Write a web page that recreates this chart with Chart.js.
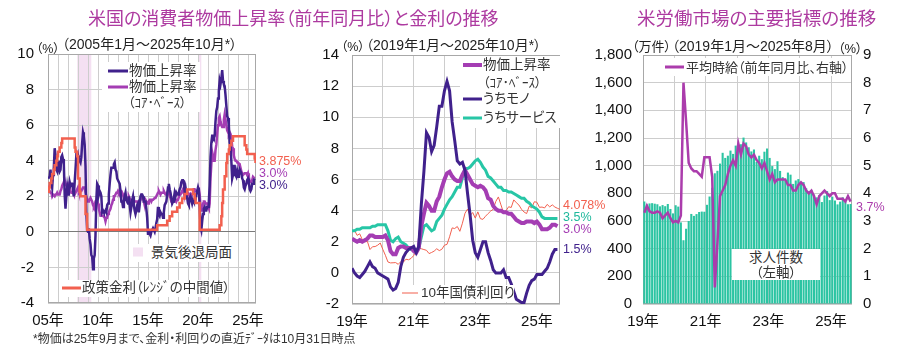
<!DOCTYPE html>
<html lang="ja">
<head>
<meta charset="utf-8">
<script src="https://cdn.jsdelivr.net/npm/chart.js@4.4.1/dist/chart.umd.min.js"></script>
<style>
  body { margin:0; width:900px; height:360px; position:relative; overflow:hidden; background:#fff;
         font-family:"Liberation Sans","Noto Sans CJK JP",sans-serif; color:#333; }
  canvas { position:absolute; top:0; }
  .t { position:absolute; line-height:1; transform:translateY(-50%); white-space:nowrap; font-feature-settings:"palt"; }
  .box { position:absolute; background:#fff; }
  .key { position:absolute; transform:translateY(-50%); }
</style>
</head>
<body>
<canvas id="cpiChart" width="300" height="360" style="left:0"></canvas>
<canvas id="mixChart" width="300" height="360" style="left:300px"></canvas>
<canvas id="jobChart" width="310" height="360" style="left:590px"></canvas>

<!-- titles -->
<div class="t" style="left:88px;top:19px;font-size:18px;color:#ad3aa0">米国の消費者物価上昇率（前年同月比）と金利の推移</div>
<div class="t" style="left:637px;top:19px;font-size:18.5px;color:#ad3aa0">米労働市場の主要指標の推移</div>

<!-- left panel -->
<div class="t" style="left:36px;top:49px;font-size:12.5px;color:#222">（%）</div>
<div class="t" style="left:62px;top:44px;font-size:14px;color:#222">（2005年1月～2025年10月*）</div>
<div class="box" style="left:102px;top:62px;width:98px;height:50px"></div>
<div class="key" style="left:108px;top:71px;width:20px;height:3px;background:#40218c"></div>
<div class="t" style="left:129px;top:71px;font-size:13.5px">物価上昇率</div>
<div class="key" style="left:108px;top:87px;width:20px;height:3px;background:#a43db3"></div>
<div class="t" style="left:129px;top:87px;font-size:13.5px">物価上昇率</div>
<div class="t" style="left:128px;top:102px;font-size:13px">（ｺｱ･ﾍﾞｰｽ）</div>
<div class="box" style="left:130px;top:244px;width:102px;height:18px"></div>
<div class="key" style="left:133px;top:252px;width:10px;height:9px;background:#f4e0f2"></div>
<div class="t" style="left:151px;top:253px;font-size:13.5px">景気後退局面</div>
<div class="box" style="left:60px;top:280px;width:166px;height:17px"></div>
<div class="key" style="left:62px;top:288px;width:19px;height:3px;background:#f2604f"></div>
<div class="t" style="left:82px;top:288px;font-size:13.5px">政策金利（ﾚﾝｼﾞの中間値）</div>
<div class="t" style="left:259px;top:161px;font-size:12.5px;color:#f2604f">3.875%</div>
<div class="t" style="left:259px;top:173px;font-size:12.5px;color:#a43db3">3.0%</div>
<div class="t" style="left:259px;top:185px;font-size:12.5px;color:#40218c">3.0%</div>
<div class="t" style="left:33px;top:339px;font-size:12px;color:#333">*物価は25年9月まで、金利・利回りの直近ﾃﾞｰﾀは10月31日時点</div>

<!-- middle panel -->
<div class="t" style="left:341px;top:47px;font-size:12.5px;color:#222">（%）</div>
<div class="t" style="left:366px;top:45px;font-size:14px;color:#222">（2019年1月～2025年10月*）</div>
<div class="box" style="left:460px;top:56px;width:100px;height:72px"></div>
<div class="key" style="left:463px;top:65px;width:19px;height:4px;background:#a43db3"></div>
<div class="t" style="left:483px;top:65px;font-size:13.5px">物価上昇率</div>
<div class="t" style="left:483px;top:82px;font-size:13px">（ｺｱ･ﾍﾞｰｽ）</div>
<div class="key" style="left:463px;top:99px;width:19px;height:3px;background:#40218c"></div>
<div class="t" style="left:483px;top:99px;font-size:13.5px">うちモノ</div>
<div class="key" style="left:463px;top:118px;width:19px;height:3px;background:#27c6a6"></div>
<div class="t" style="left:483px;top:118px;font-size:13.5px">うちサービス</div>
<div class="box" style="left:399px;top:285px;width:115px;height:17px"></div>
<div class="key" style="left:402px;top:293px;width:16px;height:1px;background:#f2604f"></div>
<div class="t" style="left:421px;top:293px;font-size:13.5px">10年国債利回り</div>
<div class="t" style="left:563px;top:205px;font-size:12.5px;color:#f2604f">4.078%</div>
<div class="t" style="left:563px;top:217px;font-size:12.5px;color:#1fb89c">3.5%</div>
<div class="t" style="left:563px;top:229px;font-size:12.5px;color:#a43db3">3.0%</div>
<div class="t" style="left:563px;top:249px;font-size:12.5px;color:#40218c">1.5%</div>

<!-- right panel -->
<div class="t" style="left:632px;top:46px;font-size:13px;color:#222">（万件）</div>
<div class="t" style="left:672px;top:46px;font-size:14px;color:#222">（2019年1月～2025年8月）</div>
<div class="t" style="left:838px;top:48px;font-size:13px;color:#222">（%）</div>
<div class="box" style="left:662px;top:58px;width:188px;height:18px"></div>
<div class="key" style="left:665px;top:67px;width:19px;height:3px;background:#ab3cac"></div>
<div class="t" style="left:686px;top:67px;font-size:13px">平均時給（前年同月比、右軸）</div>
<div class="box" style="left:732px;top:249px;width:88px;height:31px"></div>
<div class="t" style="left:732px;width:88px;text-align:center;top:258px;font-size:13.5px">求人件数</div>
<div class="t" style="left:732px;width:88px;text-align:center;top:273px;font-size:13.5px">（左軸）</div>
<div class="t" style="left:856px;top:207px;font-size:12.5px;color:#ab3cac">3.7%</div>

<script>
// ---- data: US CPI, y/y %, monthly from Jan 2005 ----
const cpiStart = 2005;
const cpiAll = [
  3.0,3.0,3.1,3.5,2.8,2.5,3.2,3.6,4.7,4.3,3.5,3.4,
  4.0,3.6,3.4,3.5,4.2,4.3,4.1,3.8,2.1,1.3,2.0,2.5,
  2.1,2.4,2.8,2.6,2.7,2.7,2.4,2.0,2.8,3.5,4.3,4.1,
  4.3,4.0,4.0,3.9,4.2,5.0,5.6,5.4,4.9,3.7,1.1,0.1,
  0.0,0.2,-0.4,-0.7,-1.3,-1.4,-2.1,-1.5,-1.3,-0.2,1.8,2.7,
  2.6,2.1,2.3,2.2,2.0,1.1,1.2,1.1,1.1,1.2,1.1,1.5,
  1.6,2.1,2.7,3.2,3.6,3.6,3.6,3.8,3.9,3.5,3.4,3.0,
  2.9,2.9,2.7,2.3,1.7,1.7,1.4,1.7,2.0,2.2,1.8,1.7,
  1.6,2.0,1.5,1.1,1.4,1.8,2.0,1.5,1.2,1.0,1.2,1.5,
  1.6,1.1,1.5,2.0,2.1,2.1,2.0,1.7,1.7,1.7,1.3,0.8,
  -0.1,0.0,-0.1,-0.2,0.0,0.1,0.2,0.2,0.0,0.2,0.5,0.7,
  1.4,1.0,0.9,1.1,1.0,1.0,0.8,1.1,1.5,1.6,1.7,2.1,
  2.5,2.7,2.4,2.2,1.9,1.6,1.7,1.9,2.2,2.0,2.2,2.1,
  2.1,2.2,2.4,2.5,2.8,2.9,2.9,2.7,2.3,2.5,2.2,1.9,
  1.6,1.5,1.9,2.0,1.8,1.6,1.8,1.7,1.7,1.8,2.1,2.3,
  2.5,2.3,1.5,0.3,0.1,0.6,1.0,1.3,1.4,1.2,1.2,1.4,
  1.4,1.7,2.6,4.2,5.0,5.4,5.4,5.3,5.4,6.2,6.8,7.0,
  7.5,7.9,8.5,8.3,8.6,9.1,8.5,8.3,8.2,7.7,7.1,6.5,
  6.4,6.0,5.0,4.9,4.0,3.0,3.2,3.7,3.7,3.2,3.1,3.4,
  3.1,3.2,3.5,3.4,3.3,3.0,2.9,2.5,2.4,2.6,2.7,2.9,
  3.0,2.8,2.4,2.3,2.4,2.7,2.7,2.9,3.0
];
const cpiCore = [
  2.3,2.4,2.3,2.2,2.2,2.0,2.1,2.1,2.0,2.1,2.1,2.2,
  2.1,2.1,2.1,2.3,2.4,2.6,2.7,2.8,2.9,2.7,2.6,2.6,
  2.7,2.7,2.5,2.3,2.2,2.2,2.2,2.1,2.1,2.2,2.3,2.4,
  2.5,2.3,2.4,2.3,2.3,2.4,2.5,2.5,2.5,2.2,2.0,1.8,
  1.7,1.8,1.8,1.9,1.8,1.7,1.5,1.4,1.5,1.7,1.7,1.8,
  1.6,1.3,1.1,0.9,0.9,0.9,0.9,0.9,0.8,0.6,0.8,0.8,
  1.0,1.1,1.2,1.3,1.5,1.6,1.8,2.0,2.0,2.1,2.2,2.2,
  2.3,2.2,2.3,2.3,2.3,2.2,2.1,1.9,2.0,2.0,1.9,1.9,
  1.9,2.0,1.9,1.7,1.7,1.6,1.7,1.8,1.7,1.7,1.7,1.7,
  1.6,1.6,1.7,1.8,2.0,1.9,1.9,1.7,1.7,1.8,1.7,1.6,
  1.6,1.7,1.8,1.8,1.7,1.8,1.8,1.8,1.9,1.9,2.0,2.1,
  2.2,2.3,2.2,2.1,2.2,2.2,2.2,2.3,2.2,2.1,2.1,2.2,
  2.3,2.2,2.0,1.9,1.7,1.7,1.7,1.7,1.7,1.8,1.7,1.8,
  1.8,1.8,2.1,2.1,2.2,2.3,2.4,2.2,2.2,2.1,2.2,2.2,
  2.2,2.1,2.0,2.1,2.0,2.1,2.2,2.4,2.4,2.3,2.3,2.3,
  2.3,2.4,2.1,1.4,1.2,1.2,1.6,1.7,1.7,1.6,1.6,1.6,
  1.4,1.3,1.6,3.0,3.8,4.5,4.3,4.0,4.0,4.6,4.9,5.5,
  6.0,6.4,6.5,6.2,6.0,5.9,5.9,6.3,6.6,6.3,6.0,5.7,
  5.6,5.5,5.6,5.5,5.3,4.8,4.7,4.3,4.1,4.0,4.0,3.9,
  3.9,3.8,3.8,3.6,3.4,3.3,3.2,3.2,3.3,3.3,3.3,3.2,
  3.3,3.1,2.8,2.8,2.8,2.9,3.1,3.1,3.0
];

// policy rate (midpoint of target range): month of each change and new level
const rateMonths = [
  '2005-01','2005-02','2005-03','2005-05','2005-06','2005-08','2005-09','2005-11','2005-12',
  '2006-01','2006-03','2006-05','2006-06','2007-09','2007-10','2007-12',
  '2008-01','2008-03','2008-04','2008-10','2008-12','2015-12','2016-12',
  '2017-03','2017-06','2017-12','2018-03','2018-06','2018-09','2018-12',
  '2019-07','2019-09','2019-10','2020-03',
  '2022-03','2022-05','2022-06','2022-07','2022-09','2022-11','2022-12',
  '2023-02','2023-03','2023-05','2023-07','2024-09','2024-11','2024-12','2025-09','2025-10'
];
const rateLevels = [
  2.25,2.5,2.75,3.0,3.25,3.5,3.75,4.0,4.25,
  4.5,4.75,5.0,5.25,4.75,4.5,4.25,
  3.0,2.25,2.0,1.0,0.125,0.375,0.625,
  0.875,1.125,1.375,1.625,1.875,2.125,2.375,
  2.125,1.875,1.625,0.125,
  0.375,0.875,1.625,2.375,3.125,3.875,4.375,
  4.625,4.875,5.125,5.375,4.875,4.625,4.375,4.125,3.875
];

// recession periods (decimal years)
const recessionStart = [2007.92, 2020.08];
const recessionEnd = [2009.33, 2020.33];

// ---- middle panel, monthly from Jan 2019 ----
const midStart = 2019;
const coreMid = cpiCore.slice((midStart - cpiStart) * 12);
const goods = [
  0.3,0.0,-0.2,-0.3,-0.1,0.1,0.4,0.7,0.4,0.3,0.0,-0.1,
  -0.2,-0.3,-0.4,-0.9,-1.1,-1.0,-0.6,0.4,1.0,1.3,1.5,1.6,
  1.7,1.3,1.7,4.4,6.5,9.0,8.7,7.8,8.2,9.4,10.7,10.7,
  11.7,12.3,11.7,9.7,8.5,7.2,7.0,7.1,6.6,5.1,3.7,2.1,
  1.3,1.0,1.5,2.0,2.0,1.3,0.8,0.2,0.0,0.0,0.0,0.2,
  -0.3,-0.3,-0.7,-1.2,-1.7,-1.8,-1.9,-1.9,-1.3,-0.8,-0.5,-0.4,
  -0.1,-0.1,-0.1,0.1,0.3,0.7,1.2,1.5,1.5
];
const services = [
  2.7,2.7,2.8,2.8,2.9,2.9,2.9,2.9,3.0,3.0,3.1,3.1,
  3.1,3.1,2.7,2.1,2.0,2.2,2.3,2.0,1.9,1.8,1.6,1.5,
  1.5,1.3,1.6,2.3,3.0,3.1,2.9,2.7,2.8,3.3,3.5,3.7,
  4.1,4.4,4.7,4.9,5.2,5.5,5.5,6.1,6.7,6.7,6.8,7.0,
  7.2,7.3,7.1,6.8,6.6,6.2,6.1,5.9,5.7,5.5,5.5,5.3,
  5.3,5.2,5.2,5.1,5.0,4.9,4.8,4.8,4.6,4.5,4.3,4.2,
  4.1,3.9,3.6,3.5,3.5,3.5,3.5,3.5,3.5
];
const yield10 = [
  2.63,2.73,2.41,2.51,2.14,2.00,2.02,1.50,1.68,1.69,1.78,1.92,
  1.51,1.13,0.70,0.64,0.65,0.66,0.55,0.72,0.69,0.88,0.84,0.93,
  1.11,1.44,1.61,1.55,1.50,1.45,1.24,1.31,1.40,1.55,1.43,1.52,
  1.78,1.83,2.32,2.89,2.85,2.98,2.67,3.19,3.83,4.10,3.68,3.88,
  3.52,3.92,3.48,3.44,3.64,3.81,3.97,4.09,4.59,4.88,4.37,3.88,
  3.99,4.25,4.20,4.69,4.51,4.36,4.09,3.91,3.81,4.28,4.17,4.57,
  4.54,4.21,4.23,4.17,4.40,4.24,4.37,4.23,4.15,4.078
];

// ---- right panel, monthly from Jan 2019 ----
const jobStart = 2019;
const openings = [ // 万件
  741,719,727,729,725,721,706,715,707,723,687,655,
  714,704,590,461,544,600,651,637,650,665,668,667,
  717,777,840,945,963,1015,1093,1056,1072,1109,1085,1145,
  1135,1155,1203,1168,1133,1103,1117,1028,1072,1047,1101,1124,
  1056,997,975,1032,962,917,892,950,935,868,893,903,
  875,881,836,814,823,791,771,786,737,784,816,751,
  776,748,720,740,771,736,721,723
];
const wages = [ // %
  3.3,3.55,3.35,3.3,3.3,3.35,3.3,3.1,3.2,3.3,3.1,2.95,
  3.0,2.95,3.2,8.0,6.6,5.1,4.9,4.8,4.8,4.7,4.6,5.3,
  5.3,5.3,4.6,0.6,2.2,3.9,4.1,4.3,4.7,5.0,5.2,5.0,
  5.8,5.4,5.8,5.7,5.4,5.3,5.4,5.2,5.1,4.9,5.1,4.8,
  4.5,4.7,4.4,4.5,4.5,4.5,4.5,4.3,4.3,4.1,4.1,4.3,
  4.4,4.3,4.1,4.0,4.1,3.9,3.6,3.9,4.0,4.1,4.0,3.9,
  4.0,4.0,3.8,3.8,3.8,3.7,3.9,3.7
];

// ---- helpers ----
const PURPLE = '#40218c', MAGENTA = '#a43db3', RED = '#f2604f', TEAL = '#27c6a6';
const GRID = '#cdcdcd';
const TICK_FONT = { family: '"Liberation Sans", "Noto Sans CJK JP", sans-serif', size: 15 };

const monthly = (start, arr, shift = 0) => arr.map((v, i) => ({ x: start + (i + shift) / 12, y: v }));
const ym = s => +s.slice(0, 4) + (+s.slice(5, 7) - 1) / 12;

function xAxis(min, max, label) {
  return {
    type: 'linear', min, max, offset: false,
    border: { display: false },
    grid: { color: GRID, drawTicks: false, offset: false },
    ticks: { stepSize: 1, autoSkip: false, maxRotation: 0, minRotation: 0, includeBounds: false,
             padding: 9, color: '#111', font: TICK_FONT,
             callback: v => Number.isInteger(v) ? label(v) : '' },
    afterFit: s => { s.height = 30; }
  };
}
function yAxis(min, max, step, width, opts = {}) {
  return {
    min, max, position: opts.position || 'left',
    border: { display: false },
    grid: { color: opts.gridColor || GRID, drawTicks: false, drawOnChartArea: opts.grid !== false },
    ticks: { stepSize: step, padding: opts.padding || 13, color: '#111', font: TICK_FONT,
             callback: opts.format || (v => v) },
    afterFit: s => { s.width = width; }
  };
}

const frame = {
  id: 'frame',
  beforeDatasetsDraw(chart) {
    const { ctx, chartArea: a } = chart;
    ctx.save();
    ctx.strokeStyle = '#a8a8a8';
    ctx.lineWidth = 1;
    ctx.strokeRect(Math.round(a.left) + 0.5, Math.round(a.top) + 0.5,
                   Math.round(a.right - a.left) - 1, Math.round(a.bottom - a.top) - 1);
    ctx.restore();
  }
};

const recessionShade = {
  id: 'recessionShade',
  beforeDraw(chart) {
    const { ctx, chartArea: a, scales: { x } } = chart;
    ctx.save();
    ctx.fillStyle = '#f4e0f2';
    recessionStart.forEach((s, i) => {
      const x0 = x.getPixelForValue(s), x1 = x.getPixelForValue(recessionEnd[i]);
      ctx.fillRect(x0, a.top, x1 - x0, a.bottom - a.top);
    });
    ctx.restore();
  }
};

const line = (data, color, width, order, extra = {}) => Object.assign({
  data, borderColor: color, borderWidth: width, pointRadius: 0, tension: 0, fill: false, order
}, extra);

const base = (padding) => ({
  responsive: false, animation: false, devicePixelRatio: 1, events: [],
  layout: { padding },
  plugins: { legend: { display: false }, tooltip: { enabled: false } }
});

// Left: CPI and policy rate
new Chart(document.getElementById('cpiChart'), {
  type: 'line',
  data: {
    datasets: [
      line(rateMonths.map((m, i) => ({ x: ym(m), y: rateLevels[i] })), RED, 2.5, 0, { stepped: true }),
      line(monthly(cpiStart, cpiAll), PURPLE, 2.5, 1),
      line(monthly(cpiStart, cpiCore), MAGENTA, 2.5, 2)
    ]
  },
  options: Object.assign(base({ top: 54, right: 44, bottom: 27, left: 0 }), {
    scales: {
      x: xAxis(2005, 2025.8, v => v % 5 === 0 ? String(v % 100).padStart(2, '0') + '年' : ''),
      y: yAxis(-4, 10, 2, 48, {
        padding: 14,
        gridColor: c => c.tick && c.tick.value === 0 ? '#7a7a7a' : GRID
      })
    }
  }),
  plugins: [recessionShade, frame]
});

// Middle: core CPI breakdown and 10y yield
new Chart(document.getElementById('mixChart'), {
  type: 'line',
  data: {
    datasets: [
      line(monthly(midStart, goods), PURPLE, 3, 0),
      line(monthly(midStart, coreMid), MAGENTA, 4, 1),
      line(monthly(midStart, services), TEAL, 3, 2),
      line(monthly(midStart, yield10), RED, 1, 3)
    ]
  },
  options: Object.assign(base({ top: 55, right: 40, bottom: 26, left: 0 }), {
    scales: {
      x: xAxis(2019, 2025.75, v => v % 2 === 1 ? (v % 100) + '年' : ''),
      y: yAxis(-2, 14, 2, 52, { padding: 13 })
    }
  }),
  plugins: [frame]
});

// Right: job openings and hourly earnings
new Chart(document.getElementById('jobChart'), {
  type: 'bar',
  data: {
    datasets: [
      line(monthly(jobStart, wages, 0.5), '#ab3cac', 2.5, 0, { type: 'line', yAxisID: 'y1' }),
      { type: 'bar', data: monthly(jobStart, openings, 0.5), backgroundColor: '#2bc4a2',
        barPercentage: 0.8, categoryPercentage: 1, yAxisID: 'y', order: 1 }
    ]
  },
  options: Object.assign(base({ top: 55, right: 0, bottom: 26, left: 0 }), {
    scales: {
      x: xAxis(2019, 2025.67, v => v % 2 === 1 ? (v % 100) + '年' : ''),
      y: yAxis(0, 1800, 200, 53, { padding: 11, format: v => v.toLocaleString('en-US') }),
      y1: yAxis(0, 9, 1, 48, { position: 'right', grid: false, padding: 11 })
    }
  }),
  plugins: [frame]
});
</script>
</body>
</html>
